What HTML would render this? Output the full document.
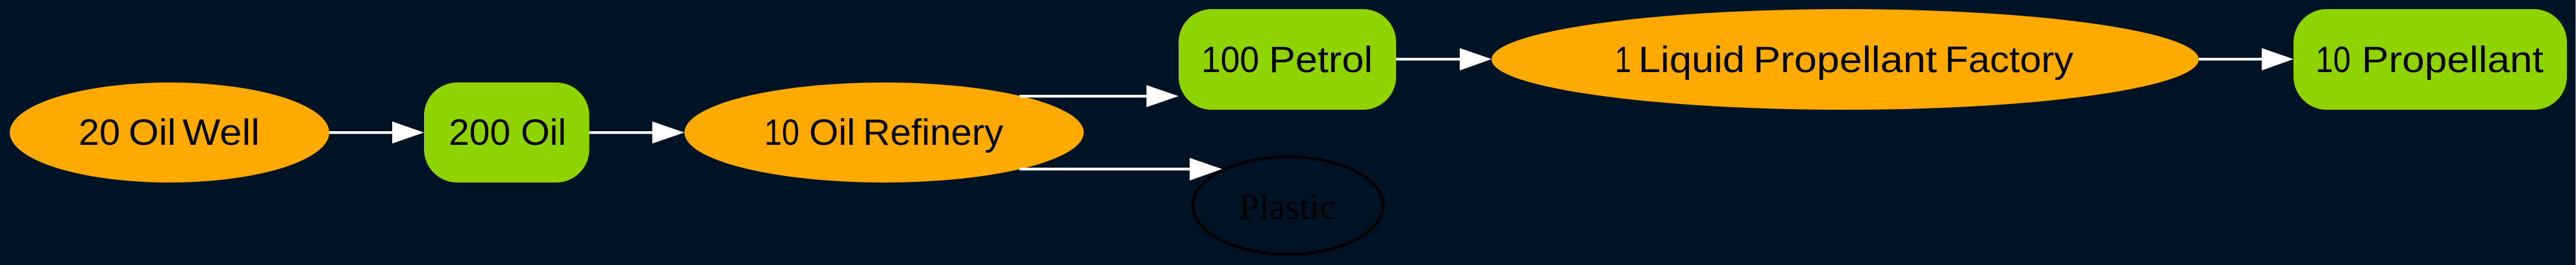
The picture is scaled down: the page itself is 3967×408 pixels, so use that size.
<!DOCTYPE html>
<html lang="en">
<head>
<meta charset="utf-8">
<title>Oil production diagram</title>
<style>
html,body{margin:0;padding:0;background:#001324;width:3967px;height:408px;overflow:hidden}
svg{display:block}
text{font-family:"Liberation Sans",sans-serif;font-size:57px;fill:#000}
</style>
</head>
<body>
<svg width="3967" height="408" viewBox="0 0 3967 408" xmlns="http://www.w3.org/2000/svg">
<rect width="3967" height="408" fill="#001324"/>
<rect x="3966" y="0" width="1" height="408" fill="#9aa3ab"/>

<!-- Nodes -->
<ellipse cx="261" cy="204" rx="246" ry="77" fill="#ffaa00"/>
<rect x="653" y="127" width="254.5" height="154" rx="51" ry="51" fill="#8ed400"/>
<ellipse cx="1361.5" cy="204" rx="307.5" ry="77" fill="#ffaa00"/>
<rect x="1815" y="14" width="335" height="155" rx="51" ry="51" fill="#8ed400"/>
<ellipse cx="1983.5" cy="316.5" rx="146.5" ry="75" fill="none" stroke="#000" stroke-width="4.5"/>
<ellipse cx="2841.5" cy="91.5" rx="544.5" ry="77.5" fill="#ffaa00"/>
<rect x="3532" y="14" width="421" height="155" rx="51" ry="51" fill="#8ed400"/>

<!-- Connectors -->
<g fill="#fff" stroke="none">
<rect x="507" y="202" width="98" height="4.2"/>
<polygon points="604,187 653,204 604,221"/>
<rect x="907.5" y="202" width="98" height="4.2"/>
<polygon points="1004.5,187 1054,204 1004.5,221"/>
<rect x="1570" y="146" width="197" height="4.2"/>
<polygon points="1765.5,131 1815,148 1765.5,165"/>
<rect x="1570" y="258.2" width="264" height="4.2"/>
<polygon points="1832,243 1882,260.3 1832,278"/>
<rect x="2150" y="89" width="99" height="4.2"/>
<polygon points="2248,74 2297,91 2248,108.5"/>
<rect x="3386" y="89" width="98" height="4.2"/>
<polygon points="3483,74 3532,91 3483,108.5"/>
</g>

<!-- Labels -->
<text y="223"><tspan x="121" textLength="64" lengthAdjust="spacingAndGlyphs">20</tspan> <tspan x="198" textLength="73" lengthAdjust="spacingAndGlyphs">Oil</tspan> <tspan x="281" textLength="119" lengthAdjust="spacingAndGlyphs">Well</tspan></text>
<text y="223"><tspan x="691" textLength="95" lengthAdjust="spacingAndGlyphs">200</tspan> <tspan x="802" textLength="70" lengthAdjust="spacingAndGlyphs">Oil</tspan></text>
<text y="223"><tspan x="1177" textLength="54" lengthAdjust="spacingAndGlyphs">10</tspan> <tspan x="1246" textLength="71" lengthAdjust="spacingAndGlyphs">Oil</tspan> <tspan x="1329" textLength="216" lengthAdjust="spacingAndGlyphs">Refinery</tspan></text>
<text y="111"><tspan x="1850" textLength="89" lengthAdjust="spacingAndGlyphs">100</tspan> <tspan x="1954" textLength="160" lengthAdjust="spacingAndGlyphs">Petrol</tspan></text>
<text x="1908" y="337" textLength="149" lengthAdjust="spacingAndGlyphs" style="font-family:'Liberation Serif',serif;font-size:56px">Plastic</text>
<text y="111"><tspan x="2487" textLength="25" lengthAdjust="spacingAndGlyphs">1</tspan> <tspan x="2523" textLength="164" lengthAdjust="spacingAndGlyphs">Liquid</tspan> <tspan x="2700" textLength="283" lengthAdjust="spacingAndGlyphs">Propellant</tspan> <tspan x="2995" textLength="198" lengthAdjust="spacingAndGlyphs">Factory</tspan></text>
<text y="111"><tspan x="3566" textLength="54" lengthAdjust="spacingAndGlyphs">10</tspan> <tspan x="3637" textLength="280" lengthAdjust="spacingAndGlyphs">Propellant</tspan></text>
</svg>
</body>
</html>
